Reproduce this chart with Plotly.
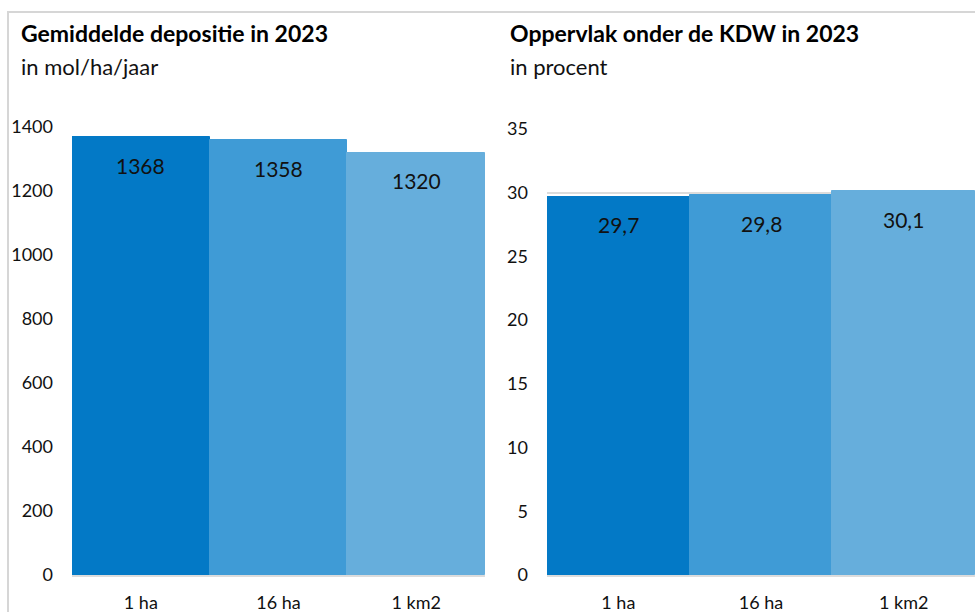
"""Gemiddelde depositie en oppervlak onder de KDW in 2023, per rekenresolutie."""

import plotly.graph_objects as go

# data
resoluties = ["1 ha", "16 ha", "1 km2"]
depositie = [1368, 1358, 1320]
oppervlak_kdw = [29.7, 29.8, 30.1]

kleuren = ["#0379C6", "#3F9BD6", "#66AEDC"]
FONT = "Lato"
GRID = "#DCDCDC"


def _label(v: float) -> str:
    if isinstance(v, float):
        return f"{v:.1f}".replace(".", ",")
    return str(v)


fig = go.Figure()
for values, xa, ya in ((depositie, "x", "y"), (oppervlak_kdw, "x2", "y2")):
    fig.add_trace(
        go.Bar(
            x=resoluties, y=values, xaxis=xa, yaxis=ya,
            marker={"color": kleuren, "line": {"color": kleuren, "width": 1}},
        )
    )

# waarden in de balken
for xa, ya, values in (("x", "y", depositie), ("x2", "y2", oppervlak_kdw)):
    for cat, v in zip(resoluties, values):
        fig.add_annotation(
            x=cat, y=v, xref=xa, yref=ya, text=_label(v), showarrow=False,
            yanchor="middle", yshift=-28, font={"size": 21, "color": "#111"},
        )

# titels
titels = [
    (19 / 975, "Gemiddelde depositie in 2023", "in mol/ha/jaar"),
    (508 / 975, "Oppervlak onder de KDW in 2023", "in procent"),
]
for x, titel, sub in titels:
    fig.add_annotation(
        x=x, y=1 - 33 / 612, xref="paper", yref="paper", text=f"<b>{titel}</b>",
        showarrow=False, xanchor="left", yanchor="middle",
        font={"size": 23, "color": "#000"},
    )
    fig.add_annotation(
        x=x, y=1 - 66 / 612, xref="paper", yref="paper", text=sub,
        showarrow=False, xanchor="left", yanchor="middle",
        font={"size": 22, "color": "#111"},
    )

# kader
fig.add_shape(type="line", xref="paper", yref="paper", x0=7 / 975, x1=1,
              y0=1 - 12 / 612, y1=1 - 12 / 612, line={"color": "#D6D6D6", "width": 2})
fig.add_shape(type="line", xref="paper", yref="paper", x0=8 / 975, x1=8 / 975,
              y0=0, y1=1 - 12 / 612, line={"color": "#D6D6D6", "width": 2})

xcommon = {
    "showgrid": False, "showline": True, "linecolor": GRID, "linewidth": 2,
    "ticks": "", "ticklabelstandoff": 10, "tickfont": {"size": 18, "color": "#111"},
    "fixedrange": True,
}
ycommon = {
    "showgrid": True, "gridcolor": GRID, "gridwidth": 2, "zeroline": False,
    "ticks": "", "ticklabelstandoff": 18, "tickfont": {"size": 18, "color": "#111"},
    "fixedrange": True,
}

fig.update_layout(
    width=975, height=612,
    margin={"l": 0, "r": 0, "t": 0, "b": 0, "autoexpand": False},
    paper_bgcolor="white", plot_bgcolor="white",
    font={"family": FONT, "color": "#111"},
    showlegend=False, bargap=0,
    xaxis={**xcommon, "domain": [72 / 975, 485 / 975], "anchor": "y"},
    yaxis={**ycommon, "domain": [37 / 612, 485 / 612], "range": [0, 1400],
           "dtick": 200, "anchor": "x"},
    xaxis2={**xcommon, "domain": [547 / 975, 1], "anchor": "y2"},
    yaxis2={**ycommon, "domain": [37 / 612, 483 / 612], "range": [0, 35],
            "dtick": 5, "anchor": "x2"},
)

fig.write_html(
    "out.html",
    config={"displayModeBar": False},
    post_script="document.body.style.margin = '0'; document.body.style.overflow = 'hidden';",
)
